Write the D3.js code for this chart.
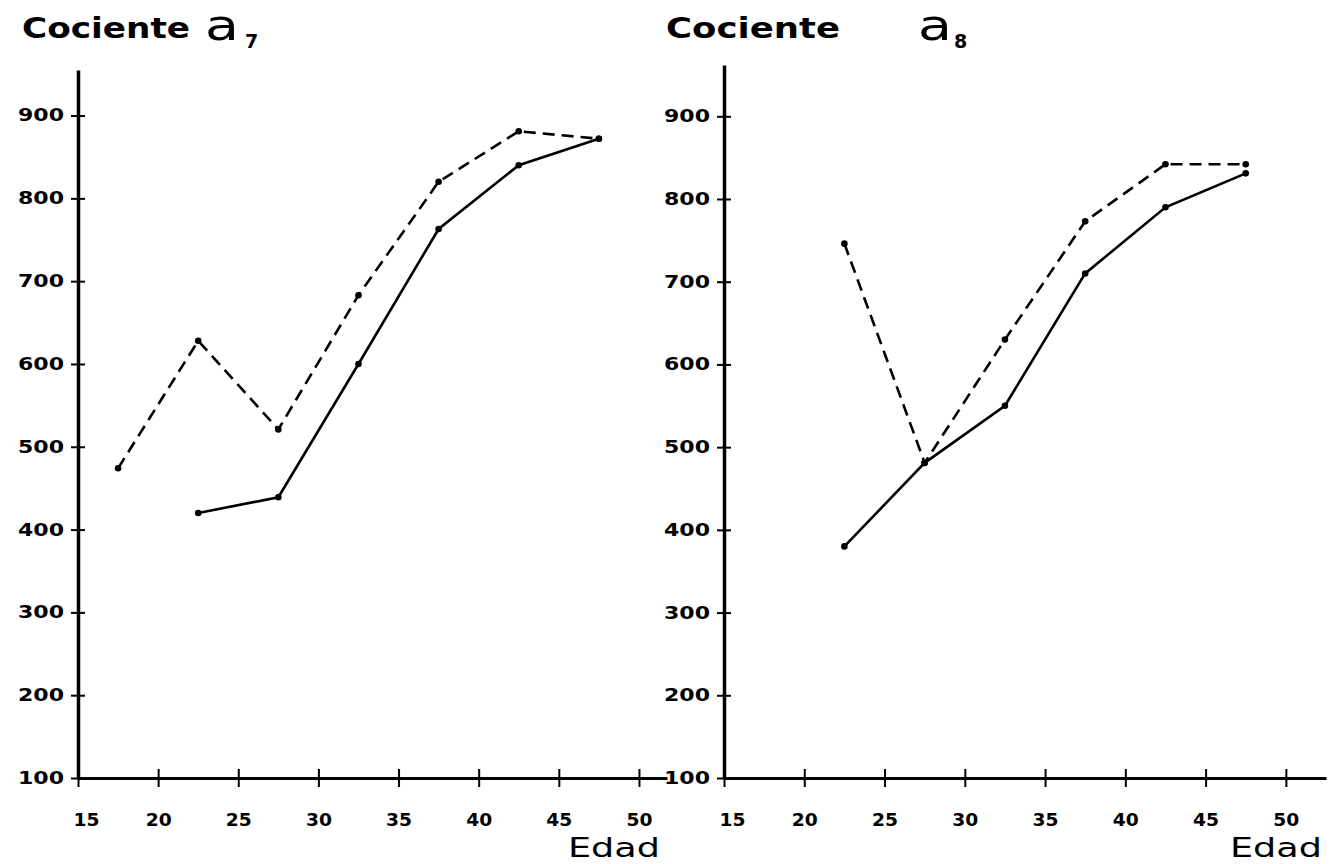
<!DOCTYPE html>
<html>
<head>
<meta charset="utf-8">
<script src="https://cdn.jsdelivr.net/npm/d3@7"></script>
<style>
  html, body { margin: 0; padding: 0; background: #fff; }
  svg { display: block; }
  text { fill: #000; }
</style>
</head>
<body>
<svg id="chart" width="1331" height="864"></svg>
<script>
// ---- data ----
const ages = [17.5, 22.5, 27.5, 32.5, 37.5, 42.5, 47.5];
const a7Dashed = [474, 628, 521, 683, 820, 881, 872];
const a7Solid  = [null, 420, 439, 600, 763, 840, 872];
const a8Dashed = [null, 746, 481, 630, 773, 842, 842];
const a8Solid  = [null, 380, 481, 550, 710, 790, 831];
const xTicks = [15, 20, 25, 30, 35, 40, 45, 50];
const yTicks = [100, 200, 300, 400, 500, 600, 700, 800, 900];
const titles = ["Cociente", "Cociente"];
const subs = ["7", "8"];
const xLabel = "Edad";

const svg = d3.select("#chart");
const FONT = "'DejaVu Sans', sans-serif";

const panels = [
  { x0: 78,  x1: 667,  xMax: 51.75, yTop: 70, yMax: 955, dashed: a7Dashed, solid: a7Solid, sub: subs[0],
    title: titles[0], titleX: 22, titleW: 168, aX: 205, subX: 245, edadX: 568 },
  { x0: 724, x1: 1326, xMax: 52.5,  yTop: 65, yMax: 962, dashed: a8Dashed, solid: a8Solid, sub: subs[1],
    title: titles[1], titleX: 666, titleW: 174, aX: 918, subX: 954, edadX: 1230 }
];

panels.forEach(p => {
  const x = d3.scaleLinear().domain([15, p.xMax]).range([p.x0, p.x1]);
  const y = d3.scaleLinear().domain([100, p.yMax]).range([778, p.yTop]);
  const g = svg.append("g");

  // x axis
  const xa = g.append("g").attr("transform", `translate(0,${y(100)})`)
    .call(d3.axisBottom(x).tickValues(xTicks).tickSize(0).tickPadding(0).tickFormat(d3.format("d")));
  xa.select(".domain").attr("stroke", "#000").attr("stroke-width", 3);
  xa.selectAll(".tick line").attr("y1", -9).attr("y2", 9).attr("stroke", "#000").attr("stroke-width", 2);
  xa.selectAll(".tick text")
    .attr("y", 48).attr("dy", null)
    .attr("dx", (d, i) => i === 0 ? 8 : 0)
    .attr("font-family", FONT).attr("font-size", 17).attr("font-weight", 600)
    .attr("textLength", 26).attr("lengthAdjust", "spacingAndGlyphs");

  // y axis
  const ya = g.append("g").attr("transform", `translate(${p.x0},0)`)
    .call(d3.axisLeft(y).tickValues(yTicks).tickSize(0).tickPadding(14).tickFormat(d3.format("d")));
  ya.select(".domain").attr("stroke", "#000").attr("stroke-width", 3.5);
  ya.selectAll(".tick line").attr("x1", -7).attr("x2", 7).attr("stroke", "#000").attr("stroke-width", 2);
  ya.selectAll(".tick text")
    .attr("font-family", FONT).attr("font-size", 17).attr("font-weight", 600)
    .attr("textLength", 46).attr("lengthAdjust", "spacingAndGlyphs");

  // lines
  const line = d3.line().defined(d => d[1] != null).x(d => x(d[0])).y(d => y(d[1]));
  const dData = ages.map((a, i) => [a, p.dashed[i]]);
  const sData = ages.map((a, i) => [a, p.solid[i]]);
  g.append("path").datum(dData).attr("d", line).attr("fill", "none")
    .attr("stroke", "#000").attr("stroke-width", 2.6).attr("stroke-dasharray", "12,7");
  g.append("path").datum(sData).attr("d", line).attr("fill", "none")
    .attr("stroke", "#000").attr("stroke-width", 2.6);
  g.selectAll(".pd").data(dData.filter(d => d[1] != null)).join("circle")
    .attr("cx", d => x(d[0])).attr("cy", d => y(d[1])).attr("r", 3.3).attr("fill", "#000");
  g.selectAll(".ps").data(sData.filter(d => d[1] != null)).join("circle")
    .attr("cx", d => x(d[0])).attr("cy", d => y(d[1])).attr("r", 3.3).attr("fill", "#000");

  // titles
  g.append("text").attr("x", p.titleX).attr("y", 38).text(p.title)
    .attr("font-family", FONT).attr("font-size", 29).attr("font-weight", "bold")
    .attr("textLength", p.titleW).attr("lengthAdjust", "spacingAndGlyphs");
  g.append("text").attr("x", p.aX).attr("y", 40).text("a")
    .attr("font-family", FONT).attr("font-size", 42).attr("font-weight", "normal")
    .attr("textLength", 34).attr("lengthAdjust", "spacingAndGlyphs");
  g.append("text").attr("x", p.subX).attr("y", 48).text(p.sub)
    .attr("font-family", FONT).attr("font-size", 19).attr("font-weight", "bold");

  // x label
  g.append("text").attr("x", p.edadX).attr("y", 857).text(xLabel)
    .attr("font-family", FONT).attr("font-size", 26).attr("font-weight", "normal")
    .attr("textLength", 92).attr("lengthAdjust", "spacingAndGlyphs");
});
</script>
</body>
</html>
